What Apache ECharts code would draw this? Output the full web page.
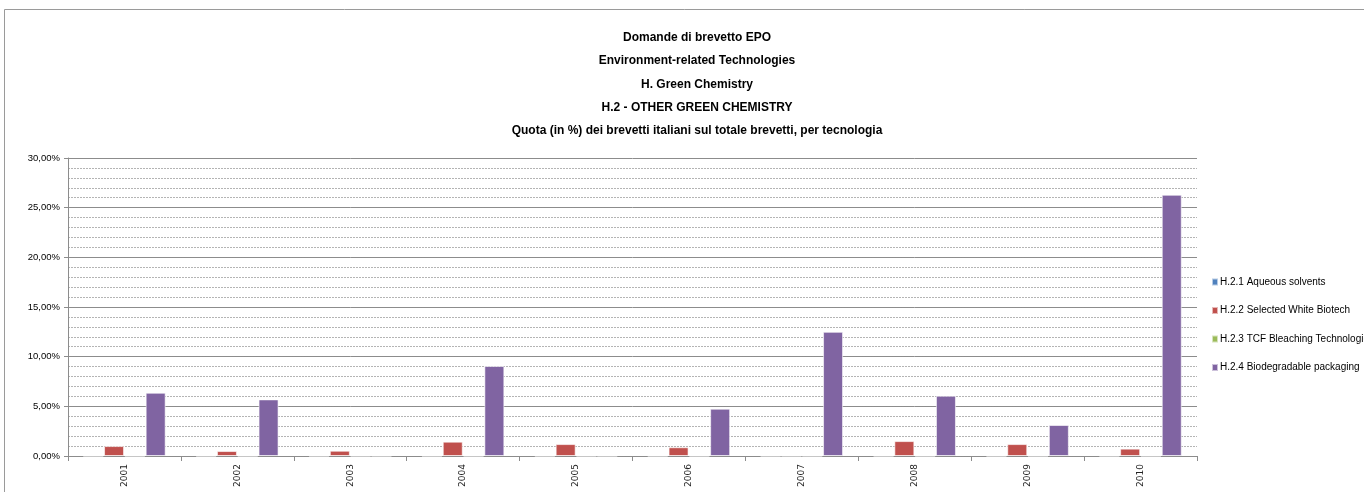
<!DOCTYPE html>
<html>
<head>
<meta charset="utf-8">
<script src="https://cdn.jsdelivr.net/npm/echarts@6/dist/echarts.min.js"></script>
<style>
  html, body { margin: 0; padding: 0; background: #fff; }
  #chart { width: 1364px; height: 492px; }
</style>
</head>
<body>
<div id="chart"></div>
<script>
// anni
var years = ['2001', '2002', '2003', '2004', '2005', '2006', '2007', '2008', '2009', '2010'];
// quote in %
var aqueous = [0, 0, 0, 0, 0, 0, 0, 0, 0, 0];
var whiteBiotech = [1.0, 0.5, 0.53, 1.44, 1.2, 0.88, 0, 1.5, 1.2, 0.74];
var tcf = [0, 0, 0, 0, 0, 0, 0, 0, 0, 0];
var packaging = [6.37, 5.7, 0, 9.06, 0, 4.76, 12.5, 6.07, 3.12, 26.3];
var seriesNames = ['H.2.1 Aqueous solvents', 'H.2.2 Selected White Biotech', 'H.2.3 TCF Bleaching Technologies', 'H.2.4 Biodegradable packaging'];

var font = '"Liberation Sans", sans-serif';
var chart = echarts.init(document.getElementById('chart'));

function pct(v) {
    return v.toFixed(2).replace('.', ',') + '%';
}

function bar(name, data) {
    return {
        name: name,
        type: 'bar',
        data: data,
        barWidth: 20,
        barGap: 0.04,
        itemStyle: { borderColor: 'rgba(255,255,255,0.6)', borderWidth: 1 }
    };
}

var option = {
    animation: false,
    color: ['#4f81bd', '#c0504d', '#9bbb59', '#8064a2'],
    graphic: [{
        type: 'rect',
        shape: { x: 4.5, y: 9.5, width: 1400, height: 500 },
        style: { fill: 'none', stroke: '#9a9a9a', lineWidth: 1 },
        silent: true
    }],
    title: {
        text: 'Domande di brevetto EPO\nEnvironment-related Technologies\nH. Green Chemistry\nH.2 - OTHER GREEN CHEMISTRY\nQuota (in %) dei brevetti italiani sul totale brevetti, per tecnologia',
        left: 692,
        textAlign: 'center',
        top: 21,
        textStyle: {
            fontFamily: font,
            fontSize: 12,
            fontWeight: 'bold',
            color: '#000',
            lineHeight: 23.3
        }
    },
    legend: {
        orient: 'vertical',
        left: 1206,
        top: 272,
        itemWidth: 6,
        itemHeight: 7,
        itemGap: 18.5,
        icon: 'rect',
        textStyle: { fontFamily: font, fontSize: 10, color: '#000', padding: [0, 0, 0, -3] },
        data: seriesNames
    },
    grid: {
        left: 68,
        right: 167,
        top: 158,
        bottom: 36,
        containLabel: false
    },
    xAxis: {
        type: 'category',
        data: years,
        axisLine: { lineStyle: { color: '#8c8c8c', width: 1 } },
        axisTick: { show: true, length: 5, lineStyle: { color: '#8c8c8c' } },
        axisLabel: {
            rotate: 90,
            fontFamily: 'DejaVu Sans, sans-serif',
            fontSize: 9,
            color: '#222',
            margin: 8,
            interval: 0
        }
    },
    yAxis: {
        type: 'value',
        min: 0,
        max: 30,
        interval: 5,
        axisLine: { show: true, lineStyle: { color: '#8c8c8c' } },
        axisTick: { show: true, length: 4, inside: false, lineStyle: { color: '#8c8c8c' } },
        axisLabel: {
            formatter: pct,
            fontFamily: font,
            fontSize: 9.5,
            color: '#000',
            margin: 8
        },
        splitLine: { lineStyle: { color: '#8c8c8c', width: 1 } },
        minorTick: { show: false, splitNumber: 5 },
        minorSplitLine: { show: true, lineStyle: { color: '#b4b4b4', type: [2, 1], width: 1 } }
    },
    series: [
        bar(seriesNames[0], aqueous),
        bar(seriesNames[1], whiteBiotech),
        bar(seriesNames[2], tcf),
        bar(seriesNames[3], packaging)
    ]
};

chart.setOption(option);
</script>
</body>
</html>
